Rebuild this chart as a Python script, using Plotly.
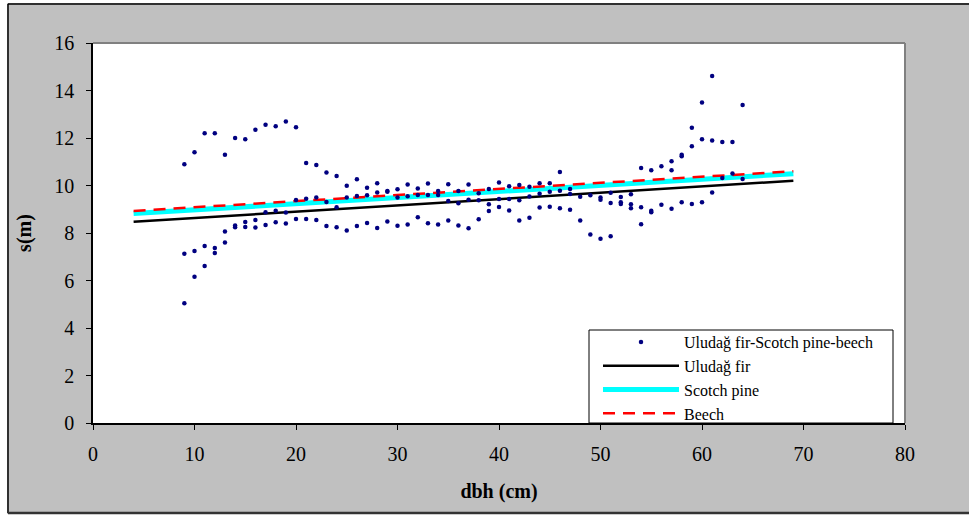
import plotly.graph_objects as go

# observed data: dbh (cm) and s (m)
dbh_obs = [9, 9, 9, 10, 10, 10, 11, 11, 11, 12, 12, 12, 13, 13, 13,
           14, 14, 14, 15, 15, 15, 16, 16, 16, 17, 17, 17, 18, 18, 18,
           19, 19, 19, 20, 20, 20, 21, 21, 21, 22, 22, 22, 23, 23, 23,
           24, 24, 24, 25, 25, 25, 26, 26, 26, 27, 27, 27, 28, 28, 28,
           29, 29, 29, 30, 30, 30, 31, 31, 31, 32, 32, 32, 33, 33, 33,
           34, 34, 34, 35, 35, 35, 36, 36, 36, 37, 37, 37, 38, 38, 38,
           39, 39, 39, 40, 40, 40, 41, 41, 41, 42, 42, 42, 43, 43, 43,
           44, 44, 44, 45, 45, 45, 46, 46, 46, 47, 47, 47, 48, 48, 49, 49,
           50, 50, 50, 51, 51, 51, 52, 52, 52, 53, 53, 53, 54, 54, 54,
           55, 55, 55, 56, 56, 57, 57, 57, 58, 58, 58, 59, 59, 59,
           60, 60, 60, 61, 61, 61, 62, 62, 63, 63, 64, 64]
s_obs = [10.9, 7.13, 5.04, 11.4, 7.24, 6.16, 12.2, 7.45, 6.61, 12.2, 7.37, 7.16, 11.3, 8.06, 7.6,
         12.0, 8.32, 8.24, 11.95, 8.46, 8.25, 12.35, 8.55, 8.23, 12.56, 8.87, 8.34, 12.5, 8.94, 8.45,
         12.7, 8.86, 8.4, 12.45, 9.39, 8.59, 10.95, 9.44, 8.59, 10.86, 9.5, 8.55, 10.55, 9.3, 8.29,
         10.4, 9.08, 8.24, 9.99, 9.49, 8.11, 10.26, 9.56, 8.29, 9.91, 9.59, 8.42, 10.09, 9.71, 8.21,
         9.77, 9.74, 8.48, 9.84, 9.5, 8.31, 10.04, 9.55, 8.36, 9.87, 9.6, 8.66, 10.08, 9.6, 8.41,
         9.77, 9.6, 8.36, 10.05, 9.35, 8.53, 9.77, 9.25, 8.32, 10.04, 9.4, 8.2, 9.67, 9.38, 8.58,
         9.85, 9.21, 8.93, 10.13, 9.43, 9.09, 9.97, 9.43, 8.95, 10.02, 9.38, 8.53, 9.95, 9.54, 8.64,
         10.09, 9.65, 9.07, 10.09, 9.74, 9.11, 10.57, 9.78, 9.04, 9.85, 9.64, 8.98, 9.53, 8.53, 9.59, 7.94,
         9.49, 9.4, 7.76, 9.7, 9.26, 7.86, 9.52, 9.29, 9.22, 9.63, 9.21, 9.04, 10.74, 9.08, 8.37,
         10.64, 8.94, 8.87, 10.81, 9.19, 11.02, 10.64, 9.02, 11.3, 11.23, 9.29, 12.43, 11.65, 9.22,
         13.5, 11.95, 9.29, 14.61, 11.89, 9.71, 11.83, 10.32, 11.83, 10.51, 13.39, 10.27]

# fitted lines (dbh range and s values at ends)
dbh_fit = [4, 69]
s_fir = [8.47, 10.20]
s_pine = [8.82, 10.50]
s_beech = [8.93, 10.60]

series_names = ["Uludağ fir-Scotch pine-beech", "Uludağ fir", "Scotch pine", "Beech"]
x_ticks = [0, 10, 20, 30, 40, 50, 60, 70, 80]
y_ticks = [0, 2, 4, 6, 8, 10, 12, 14, 16]

FONT = "Times New Roman"

fig = go.Figure()
fig.add_trace(go.Scatter(x=dbh_fit, y=s_fir, mode="lines", name=series_names[1],
                         line=dict(color="black", width=2.5), legendrank=2, legendgroup="b"))
fig.add_trace(go.Scatter(x=dbh_fit, y=s_pine, mode="lines", name=series_names[2],
                         line=dict(color="#00FFFF", width=5), legendrank=3, legendgroup="c"))
fig.add_trace(go.Scatter(x=dbh_fit, y=s_beech, mode="lines", name=series_names[3],
                         line=dict(color="#FF0000", width=2.5, dash="12px,8px"), legendrank=4, legendgroup="d"))
fig.add_trace(go.Scatter(x=dbh_obs, y=s_obs, mode="markers", name=series_names[0],
                         marker=dict(color="#000080", size=4.5, symbol="circle"),
                         legendrank=1, legendgroup="a"))

L, R, T, B = 93, 905, 43, 423
W, H = 969, 516
pw, ph = R - L, B - T


def px(xp):
    return (xp - L) / pw


def py(yp):
    return (B - yp) / ph


shapes = [
    dict(type="line", xref="paper", yref="paper", x0=0, x1=1, y0=1, y1=1,
         line=dict(color="#808080", width=2), layer="above"),
    dict(type="line", xref="paper", yref="paper", x0=1, x1=1, y0=0, y1=1,
         line=dict(color="#808080", width=2), layer="above"),
    dict(type="rect", xref="paper", yref="paper", x0=px(589), x1=px(893), y0=0, y1=py(330),
         fillcolor="white", line=dict(color="black", width=1), layer="above"),
    dict(type="rect", xref="paper", yref="paper", x0=px(-20), x1=px(7), y0=py(540), y1=py(-20),
         fillcolor="white", line=dict(width=0), layer="above"),
    dict(type="rect", xref="paper", yref="paper", x0=px(-20), x1=px(990), y0=py(3), y1=py(-20),
         fillcolor="white", line=dict(width=0), layer="above"),
    dict(type="rect", xref="paper", yref="paper", x0=px(-20), x1=px(990), y0=py(540), y1=py(514),
         fillcolor="white", line=dict(width=0), layer="above"),
    dict(type="line", xref="paper", yref="paper", x0=px(8), x1=px(8), y0=py(513), y1=py(4),
         line=dict(color="black", width=1.5), layer="above"),
    dict(type="line", xref="paper", yref="paper", x0=px(8), x1=px(990), y0=py(4), y1=py(4),
         line=dict(color="black", width=1.5), layer="above"),
    dict(type="line", xref="paper", yref="paper", x0=px(8), x1=px(990), y0=py(513), y1=py(513),
         line=dict(color="#333333", width=2.5), layer="above"),
]

fig.update_layout(
    width=W, height=H,
    margin=dict(l=L, r=W - R, t=T, b=H - B, pad=0),
    paper_bgcolor="#C0C0C0",
    plot_bgcolor="white",
    font=dict(family=FONT, color="black", size=20),
    showlegend=True,
    legend=dict(x=px(598), y=py(325), xanchor="left", yanchor="top",
                bgcolor="rgba(0,0,0,0)", borderwidth=0,
                font=dict(family=FONT, size=16, color="black"),
                itemwidth=76, tracegroupgap=0, traceorder="normal"),
    xaxis=dict(range=[0, 80], tickvals=x_ticks, showgrid=False, zeroline=False,
               showline=True, linecolor="black", linewidth=1.5,
               ticks="outside", ticklen=5, tickcolor="black", tickwidth=1,
               ticklabelstandoff=7,
               tickfont=dict(family=FONT, size=20),
               title=dict(text="<b>dbh (cm)</b>", font=dict(family=FONT, size=20), standoff=20)),
    yaxis=dict(range=[0, 16], tickvals=y_ticks, showgrid=False, zeroline=False,
               showline=True, linecolor="black", linewidth=1.5,
               ticks="outside", ticklen=5, tickcolor="black", tickwidth=1,
               ticklabelstandoff=8,
               tickfont=dict(family=FONT, size=20),
               title=dict(text="<b>s(m)</b>", font=dict(family=FONT, size=20), standoff=17)),
    shapes=shapes,
)

fig.write_html("out.html")
